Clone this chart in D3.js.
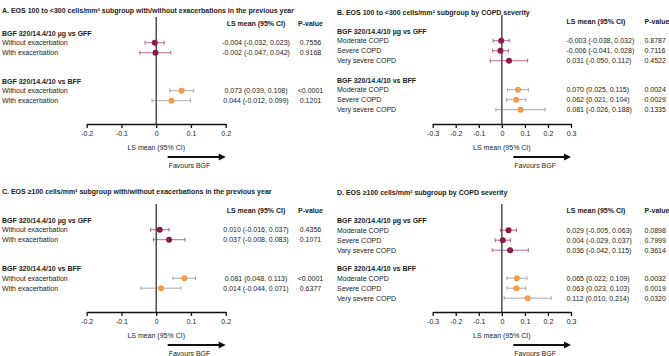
<!DOCTYPE html>
<html>
<head>
<meta charset="utf-8">
<script src="https://cdn.jsdelivr.net/npm/d3@7"></script>
<style>
  body { margin: 0; background: #fff; }
  svg text { font-family: "Liberation Sans", Arial, sans-serif; fill: #222; }
</style>
</head>
<body>
<div id="canvas"></div>
<script>
"use strict"

/* Data: group labels and row labels */
let groupLabels = ["BGF 320/14.4/10 \u00b5g vs GFF", "BGF 320/14.4/10 vs BFF"];
let exacRows = ["Without exacerbation", "With exacerbation"];
let sevRowsB = [["Moderate COPD", "Severe COPD", "Very severe COPD"],
                ["Moderate COPD", "Severe COPD", "Very severe COPD"]];
let sevRowsD = [["Moderate COPD", "Severe COPD", "Vary severe COPD"],
                ["Moderate COPD", "Severe COPD", "Very severe COPD"]];

/* Panel A: EOS 100 to <300, with/without exacerbations */
let aEst  = [[-0.004, -0.002], [0.073, 0.044]];
let aLow  = [[-0.032, -0.047], [0.039, -0.012]];
let aHigh = [[0.023, 0.042], [0.108, 0.099]];
let aP    = [["0.7556", "0.9168"], ["<0.0001", "0.1201"]];

/* Panel B: EOS 100 to <300, by COPD severity */
let bEst  = [[-0.003, -0.006, 0.031], [0.070, 0.062, 0.081]];
let bLow  = [[-0.038, -0.041, -0.050], [0.025, 0.021, -0.026]];
let bHigh = [[0.032, 0.028, 0.112], [0.115, 0.104, 0.188]];
let bP    = [["0.8787", "0.7116", "0.4522"], ["0.0024", "0.0029", "0.1335"]];

/* Panel C: EOS >=100, with/without exacerbations */
let cEst  = [[0.010, 0.037], [0.081, 0.014]];
let cLow  = [[-0.016, -0.008], [0.048, -0.044]];
let cHigh = [[0.037, 0.083], [0.113, 0.071]];
let cP    = [["0.4356", "0.1071"], ["<0.0001", "0.6377"]];

/* Panel D: EOS >=100, by COPD severity */
let dEst  = [[0.029, 0.004, 0.036], [0.065, 0.063, 0.112]];
let dLow  = [[-0.005, -0.029, -0.042], [0.022, 0.023, 0.010]];
let dHigh = [[0.063, 0.037, 0.115], [0.109, 0.103, 0.214]];
let dP    = [["0.0898", "0.7999", "0.3614"], ["0.0032", "0.0019", "0.0320"]];

let ticksNarrow = [-0.2, -0.1, 0, 0.1, 0.2];
let ticksWide = [-0.3, -0.2, -0.1, 0, 0.1, 0.2, 0.3];

/* Drawing config */
let svgWidth = 669;
let svgHeight = 356;
let fontSize = 7;
let groupColors = ["#8b1a4b", "#f29b48"];
let barColors = ["#8b1a4b", "#7a7a7a"];

let loc = d3.formatLocale({decimal: ".", thousands: ",", grouping: [3],
    currency: ["", ""], minus: "-"});
let f3 = loc.format(".3f");
let tickFmt = function(d) { return d === 0 ? "0" : loc.format(".1f")(d); };

let svg = d3.select("#canvas")
    .append("svg")
    .attr("width", svgWidth)
    .attr("height", svgHeight);

function drawPanel(p) {
    let g = svg.append("g");
    let x = d3.scaleLinear().domain(p.domain).range(p.range);

    /* title */
    g.append("text")
        .attr("x", p.x0 + 2)
        .attr("y", p.titleY + 2.5)
        .attr("font-size", fontSize)
        .attr("font-weight", "bold")
        .text(p.title);

    /* column headers */
    g.append("text")
        .attr("x", p.ciX)
        .attr("y", p.headerY + 2.5)
        .attr("text-anchor", p.anchor)
        .attr("font-size", fontSize)
        .attr("font-weight", "bold")
        .text("LS mean (95% CI)");
    g.append("text")
        .attr("x", p.pX)
        .attr("y", p.headerY + 2.5)
        .attr("text-anchor", p.anchor)
        .attr("font-size", fontSize)
        .attr("font-weight", "bold")
        .text("P-value");

    /* zero line */
    g.append("line")
        .attr("x1", x(0)).attr("x2", x(0))
        .attr("y1", p.headerY - 6).attr("y2", p.axisY)
        .attr("stroke", "#333")
        .attr("stroke-width", 1.3);

    groupLabels.forEach(function(label, gi) {
        let gy = p.groupY[gi];
        g.append("text")
            .attr("x", p.x0 + 2)
            .attr("y", gy + 2.5)
            .attr("font-size", fontSize)
            .attr("font-weight", "bold")
            .text(label);

        p.rows[gi].forEach(function(rowLabel, ri) {
            let y = gy + 9.7 + ri * 10;
            let est = p.est[gi][ri], lo = p.low[gi][ri], hi = p.high[gi][ri];

            g.append("text")
                .attr("x", p.x0 + 2)
                .attr("y", y + 2.5)
                .attr("font-size", fontSize)
                .text(rowLabel);

            /* CI bar with caps */
            g.append("line")
                .attr("x1", x(lo)).attr("x2", x(hi))
                .attr("y1", y).attr("y2", y)
                .attr("stroke", barColors[gi])
                .attr("stroke-opacity", 0.8)
                .attr("stroke-width", 0.8);
            [lo, hi].forEach(function(v) {
                g.append("line")
                    .attr("x1", x(v)).attr("x2", x(v))
                    .attr("y1", y - 2).attr("y2", y + 2)
                    .attr("stroke", barColors[gi])
                    .attr("stroke-opacity", 0.8)
                    .attr("stroke-width", 0.8);
            });
            g.append("circle")
                .attr("cx", x(est))
                .attr("cy", y)
                .attr("r", 3)
                .attr("fill", groupColors[gi]);

            g.append("text")
                .attr("x", p.ciX)
                .attr("y", y + 2.5)
                .attr("text-anchor", p.anchor)
                .attr("font-size", fontSize)
                .text(f3(est) + " (" + f3(lo) + ", " + f3(hi) + ")");
            g.append("text")
                .attr("x", p.pX)
                .attr("y", y + 2.5)
                .attr("text-anchor", p.anchor)
                .attr("font-size", fontSize)
                .text(p.pvals[gi][ri]);
        });
    });

    /* x axis */
    let axis = d3.axisBottom(x)
        .tickValues(p.ticks)
        .tickFormat(tickFmt)
        .tickSize(4)
        .tickSizeOuter(0)
        .tickPadding(3);
    let ax = g.append("g")
        .attr("transform", "translate(0," + p.axisY + ")")
        .call(axis);
    ax.select(".domain").attr("stroke", "#111").attr("stroke-width", 1.3);
    ax.selectAll(".tick line").attr("stroke", "#111").attr("stroke-width", 1.3);
    ax.selectAll(".tick text")
        .attr("font-size", fontSize)
        .attr("font-family", "Liberation Sans, Arial, sans-serif")
        .attr("fill", "#222");

    g.append("text")
        .attr("x", x(0))
        .attr("y", p.axisY + 25.5)
        .attr("text-anchor", "middle")
        .attr("font-size", fontSize)
        .text("LS mean (95% CI)");

    /* favours arrow */
    let ay = p.axisY + 33;
    let ax0 = x(0) + 11.5;
    let ax1 = x(p.domain[1]);
    g.append("line")
        .attr("x1", ax0).attr("x2", ax1 - 6)
        .attr("y1", ay).attr("y2", ay)
        .attr("stroke", "#111")
        .attr("stroke-width", 2);
    g.append("path")
        .attr("d", "M" + (ax1 - 7) + "," + (ay - 3.5) + "L" + ax1 + "," + ay +
            "L" + (ax1 - 7) + "," + (ay + 3.5) + "Z")
        .attr("fill", "#111");
    g.append("text")
        .attr("x", ax0 + 1)
        .attr("y", ay + 10.5)
        .attr("font-size", fontSize)
        .text("Favours BGF");
}

drawPanel({
    title: "A. EOS 100 to <300 cells/mm\u00b3 subgroup with/without exacerbations in the previous year",
    x0: 0, domain: [-0.2, 0.2], range: [86.7, 225.7], ticks: ticksNarrow,
    titleY: 10, headerY: 23, groupY: [33, 81], axisY: 124,
    ciX: 256, pX: 310.5, anchor: "middle",
    rows: [exacRows, exacRows], est: aEst, low: aLow, high: aHigh, pvals: aP
});

drawPanel({
    title: "B. EOS 100 to <300 cells/mm\u00b3 subgroup by COPD severity",
    x0: 335, domain: [-0.3, 0.3], range: [432.7, 571], ticks: ticksWide,
    titleY: 12, headerY: 21, groupY: [31, 80], axisY: 124,
    ciX: 566.5, pX: 644.5, anchor: "start",
    rows: sevRowsB, est: bEst, low: bLow, high: bHigh, pvals: bP
});

drawPanel({
    title: "C. EOS \u2265100 cells/mm\u00b3 subgroup with/without exacerbations in the previous year",
    x0: 0, domain: [-0.2, 0.2], range: [86.7, 225.7], ticks: ticksNarrow,
    titleY: 191, headerY: 210, groupY: [220, 268.5], axisY: 312,
    ciX: 256, pX: 310.5, anchor: "middle",
    rows: [exacRows, exacRows], est: cEst, low: cLow, high: cHigh, pvals: cP
});

drawPanel({
    title: "D. EOS \u2265100 cells/mm\u00b3 subgroup by COPD severity",
    x0: 335, domain: [-0.3, 0.3], range: [432.7, 571], ticks: ticksWide,
    titleY: 192, headerY: 210, groupY: [220.5, 268.5], axisY: 312,
    ciX: 566.5, pX: 644.5, anchor: "start",
    rows: sevRowsD, est: dEst, low: dLow, high: dHigh, pvals: dP
});
</script>
</body>
</html>
